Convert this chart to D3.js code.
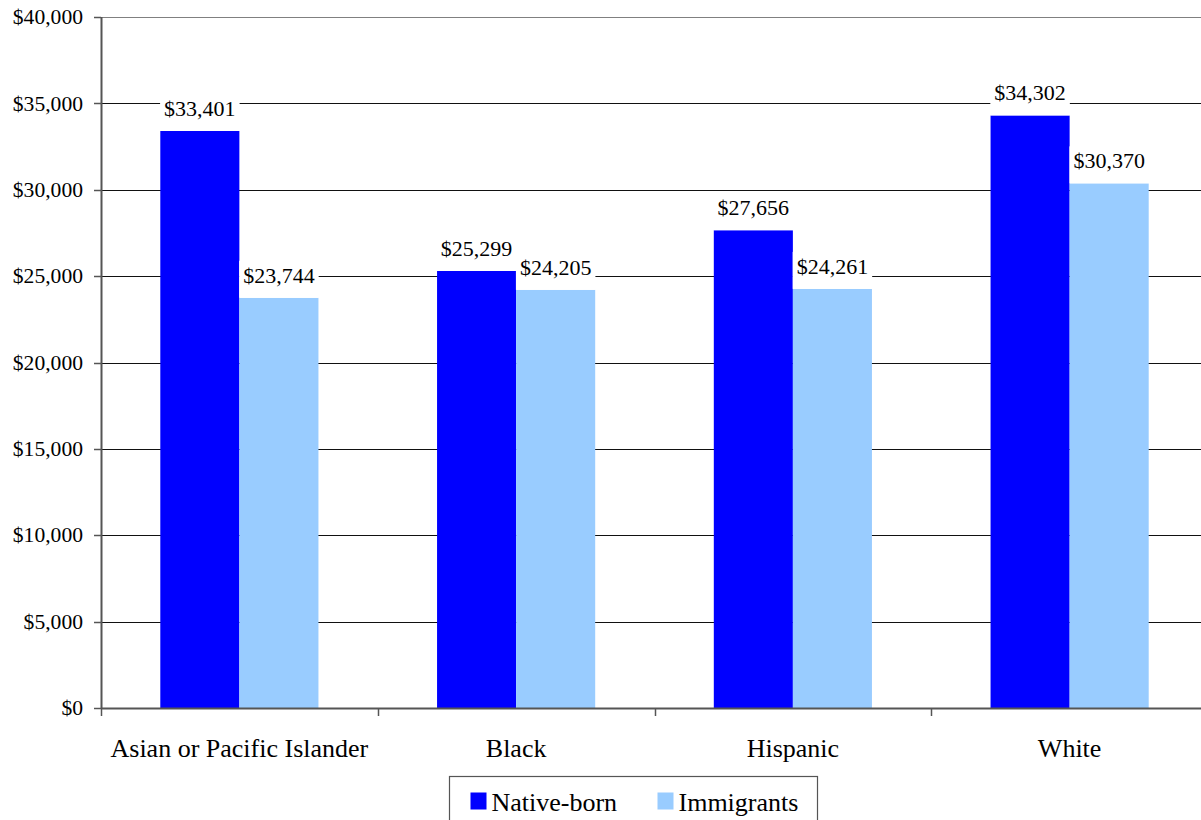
<!DOCTYPE html>
<html>
<head>
<meta charset="utf-8">
<script src="https://cdn.jsdelivr.net/npm/d3@7"></script>
<style>
  html, body { margin: 0; padding: 0; background: #fff; }
  svg { display: block; }
  text { font-family: "Liberation Serif", "Times New Roman", serif; fill: #000; }
</style>
</head>
<body>
<svg id="chart" width="1201" height="820"></svg>
<script>
// Median earnings by race/ethnicity, native-born vs. immigrants
const categories = ["Asian or Pacific Islander", "Black", "Hispanic", "White"];
const seriesNames = ["Native-born", "Immigrants"];
const nativeBorn = [33401, 25299, 27656, 34302];
const immigrants = [23744, 24205, 24261, 30370];
const yTicks = [0, 5000, 10000, 15000, 20000, 25000, 30000, 35000, 40000];
const colors = ["#0000ff", "#99ccff"];

const svg = d3.select("#chart");
const margin = { left: 101, top: 17, bottom: 112 };
const plotRight = 1208;
const plotBottom = 820 - margin.bottom;

const x0 = d3.scaleBand().domain(categories).range([margin.left, plotRight]).padding(0);
const x1 = d3.scaleBand().domain(seriesNames).range([0, x0.bandwidth()])
  .paddingInner(0).paddingOuter(0.75);
const y = d3.scaleLinear().domain([0, 40000]).range([plotBottom, margin.top]);
const color = d3.scaleOrdinal().domain(seriesNames).range(colors);
const fmt = d3.format("$,");

// Horizontal gridlines
svg.append("g").selectAll("line")
  .data(yTicks.filter(t => t > 0))
  .join("line")
  .attr("x1", margin.left).attr("x2", plotRight)
  .attr("y1", d => Math.round(y(d)) + 0.5).attr("y2", d => Math.round(y(d)) + 0.5)
  .attr("stroke", d => d === 40000 ? "#808080" : "#111")
  .attr("stroke-width", 1);

// Bars
const rows = categories.map((c, i) => ({ cat: c, values: [nativeBorn[i], immigrants[i]] }));
const groups = svg.append("g").selectAll("g")
  .data(rows).join("g")
  .attr("transform", d => `translate(${x0(d.cat)},0)`);

groups.selectAll("rect")
  .data(d => seriesNames.map((s, j) => ({ s, v: d.values[j] })))
  .join("rect")
  .attr("x", d => x1(d.s))
  .attr("width", x1.bandwidth())
  .attr("y", d => y(d.v))
  .attr("height", d => y(0) - y(d.v))
  .attr("fill", d => color(d.s));

// Value labels on white boxes
const labelLayer = svg.append("g");
rows.forEach(r => {
  seriesNames.forEach((s, j) => {
    const v = r.values[j];
    const cx = x0(r.cat) + x1(s) + x1.bandwidth() / 2;
    const g = labelLayer.append("g");
    const t = g.append("text")
      .attr("x", cx).attr("y", y(v) - 15)
      .attr("text-anchor", "middle")
      .attr("font-size", 22)
      .text(fmt(v));
    const bb = t.node().getBBox();
    g.insert("rect", "text")
      .attr("x", bb.x - 4).attr("y", bb.y - 2)
      .attr("width", bb.width + 8).attr("height", y(v) - (bb.y - 2))
      .attr("fill", "#fff");
  });
});

// Y axis
const yAxis = svg.append("g");
yAxis.append("line")
  .attr("x1", margin.left + 0.5).attr("x2", margin.left + 0.5)
  .attr("y1", margin.top).attr("y2", plotBottom + 0.5)
  .attr("stroke", "#555").attr("stroke-width", 2);
yAxis.selectAll("line.tick")
  .data(yTicks).join("line").attr("class", "tick")
  .attr("x1", margin.left - 7).attr("x2", margin.left)
  .attr("y1", d => Math.round(y(d)) + 0.5).attr("y2", d => Math.round(y(d)) + 0.5)
  .attr("stroke", "#555").attr("stroke-width", 1.5);
yAxis.selectAll("text")
  .data(yTicks).join("text")
  .attr("x", margin.left - 18)
  .attr("y", d => y(d))
  .attr("dy", "0.33em")
  .attr("text-anchor", "end")
  .attr("font-size", 21.6)
  .text(d => fmt(d));

// X axis
const xAxis = svg.append("g");
xAxis.append("line")
  .attr("x1", margin.left).attr("x2", plotRight)
  .attr("y1", plotBottom + 0.5).attr("y2", plotBottom + 0.5)
  .attr("stroke", "#555").attr("stroke-width", 2);
const boundaries = categories.map(c => x0(c)).concat([x0(categories[categories.length - 1]) + x0.bandwidth()]);
xAxis.selectAll("line.tick")
  .data(boundaries).join("line").attr("class", "tick")
  .attr("x1", d => Math.round(d) + 0.5).attr("x2", d => Math.round(d) + 0.5)
  .attr("y1", plotBottom).attr("y2", plotBottom + 8)
  .attr("stroke", "#555").attr("stroke-width", 1.5);
xAxis.selectAll("text")
  .data(categories).join("text")
  .attr("x", d => x0(d) + x0.bandwidth() / 2)
  .attr("y", plotBottom + 40)
  .attr("dy", "0.35em")
  .attr("text-anchor", "middle")
  .attr("font-size", 26)
  .text(d => d);

// Legend
const legend = svg.append("g").attr("transform", "translate(449.5,776.5)");
legend.append("rect")
  .attr("width", 368).attr("height", 60)
  .attr("fill", "#fff").attr("stroke", "#555").attr("stroke-width", 1.2);
const legendX = d3.scaleOrdinal().domain(seriesNames).range([21, 208]);
const items = legend.selectAll("g.item").data(seriesNames).join("g")
  .attr("class", "item")
  .attr("transform", d => `translate(${legendX(d)},0)`);
items.append("rect")
  .attr("x", 0).attr("y", 16).attr("width", 16).attr("height", 17)
  .attr("fill", d => color(d));
items.append("text")
  .attr("x", 21).attr("y", 25)
  .attr("dy", "0.35em")
  .attr("font-size", 26)
  .text(d => d);
</script>
</body>
</html>
